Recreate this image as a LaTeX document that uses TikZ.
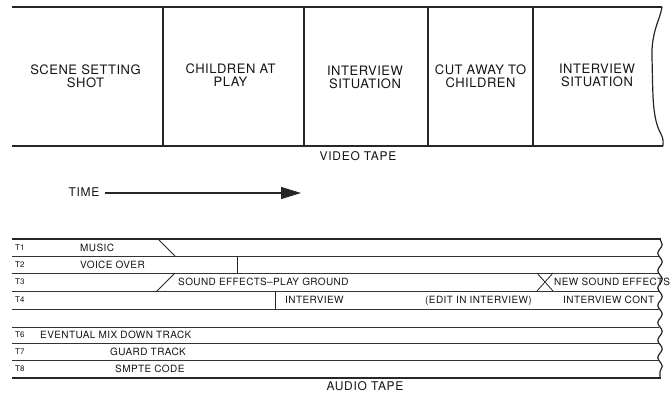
\documentclass[tikz,border=0pt]{standalone}
\usepackage{fontspec}
\setmainfont{TeX Gyre Heros}
\newfontfamily\spfont[LetterSpace=4]{TeX Gyre Heros}
\newfontfamily\capfont[LetterSpace=6]{TeX Gyre Heros}
\usetikzlibrary{arrows.meta,decorations.pathmorphing}
\begin{document}
\begin{tikzpicture}[x=1pt,y=-1pt,
  every node/.style={text=black!92},
  vlabel/.style={align=center,font=\spfont\fontsize{13}{13}\selectfont,inner sep=0pt},
  alabel/.style={anchor=west,font=\spfont\fontsize{10}{10}\selectfont,inner sep=0pt,text height=7.2pt,text depth=0pt},
  tlabel/.style={anchor=west,font=\fontsize{8}{8}\selectfont,inner sep=0pt,text height=5.8pt,text depth=0pt},
  caption/.style={font=\capfont\fontsize{12}{12}\selectfont,inner sep=0pt},
  tapeedge/.style={draw=black!85,line width=1.7pt},
  frameline/.style={draw=black!85,line width=1.2pt},
  trackline/.style={draw=black!80,line width=0.7pt},
  cutmark/.style={draw=black!85,line width=0.8pt}]
\useasboundingbox (0,0) rectangle (671,394);

% ---------- video tape ----------
\coordinate (vtl) at (12,7);
\coordinate (vtr) at (662,7);
\coordinate (vbl) at (12,146);
\coordinate (vbr) at (663,146);
\draw[tapeedge] (vtl) -- (vtr);
\draw[tapeedge] (vbl) -- (vbr);
\foreach \x/\n in {163/a,304/b,428/c,533/d}{
  \coordinate (ft\n) at (\x,7);
  \coordinate (fb\n) at (\x,146);
  \draw[frameline] (ft\n) -- (fb\n);
}
\draw[frameline] (vtr) .. controls (660,20) and (651,32) .. (652,58)
  .. controls (653,95) and (652,118) .. (661,134)
  .. controls (664,140) and (663,143) .. (vbr);

\node[vlabel] (f1) at (85.5,76.5) {SCENE SETTING\\SHOT};
\node[vlabel] (f2) at (230.5,75.5) {CHILDREN AT\\PLAY};
\node[vlabel] (f3) at (365,77) {INTERVIEW\\SITUATION};
\node[vlabel] (f4) at (480.5,76.5) {CUT AWAY TO\\CHILDREN};
\node[vlabel] (f5) at (597,75) {INTERVIEW\\SITUATION};
\node[caption] (vcap) at (358,156) {VIDEO TAPE};

% ---------- time arrow ----------
\node[caption] (time) at (84,192.5) {TIME};
\coordinate (tend) at (301,193);
\draw[draw=black!85,line width=1.3pt,-{Triangle[length=20pt,width=12pt]}]
  ([xshift=5pt]time.east |- tend) -- (tend);

% ---------- audio tape ----------
\draw[tapeedge] (12,239) -- (661,239);
\draw[tapeedge] (12,378) -- (661,378);
\foreach \y in {256,273,291,309,327,343,360}{
  \draw[trackline] (12,\y) -- (659,\y);
}
\draw[draw=black!85,line width=1.2pt,decorate,
  decoration={snake,amplitude=2.2pt,segment length=17.4pt}] (660,239) -- (660,378);

% cut marks
\draw[cutmark] (158,239) -- (175,256);
\draw[cutmark] (237,256) -- (237,273);
\draw[cutmark] (157,291) -- (175,273);
\draw[cutmark] (275,291) -- (275,309);
\draw[cutmark] (537,273) -- (553,291);
\draw[cutmark] (537,291) -- (553,273);

% track labels
\node[tlabel] (t1) at (15,247.5) {T1};
\node[tlabel] (t2) at (15,264.5) {T2};
\node[tlabel] (t3) at (15,282) {T3};
\node[tlabel] (t4) at (15,300) {T4};
\node[tlabel] (t6) at (15,335) {T6};
\node[tlabel] (t7) at (15,351.5) {T7};
\node[tlabel] (t8) at (15,369) {T8};

\node[alabel] (music) at (80,247.5) {MUSIC};
\node[alabel] (vo) at (80,264.5) {VOICE OVER};
\node[alabel] (sfx) at (178,282) {SOUND EFFECTS–PLAY GROUND};
\node[alabel] (nsfx) at (554,282) {NEW SOUND EFFECTS};
\node[alabel] (iv) at (285,300) {INTERVIEW};
\node[alabel] (edit) at (425,300) {(EDIT IN INTERVIEW)};
\node[alabel] (ivc) at (563,300) {INTERVIEW CONT};
\node[alabel] (mix) at (40,335) {EVENTUAL MIX DOWN TRACK};
\node[alabel] (guard) at (110,351.5) {GUARD TRACK};
\node[alabel] (smpte) at (115,369) {SMPTE CODE};
\node[caption] (acap) at (365,386) {AUDIO TAPE};
\end{tikzpicture}
\end{document}
